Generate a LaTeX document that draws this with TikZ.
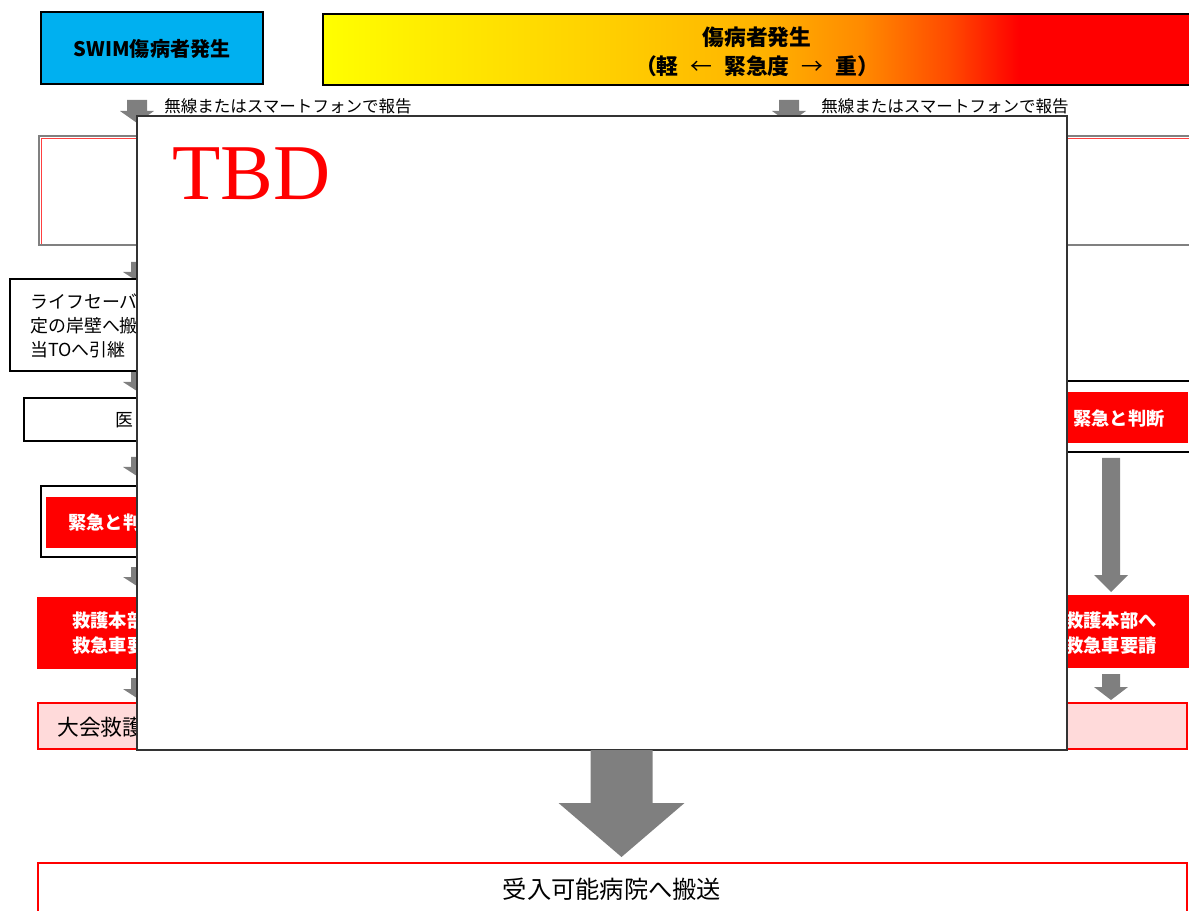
\documentclass[tikz,border=0pt]{standalone}
\usepackage{fontspec}
\setmainfont{Noto Sans CJK JP}
\newfontfamily\tbdfont{Liberation Serif}
\usepackage{xcolor}
\usetikzlibrary{fit,calc}

\definecolor{swimblue}{HTML}{00B0F0}
\definecolor{arrowgray}{HTML}{7F7F7F}
\definecolor{framegray}{HTML}{808080}
\definecolor{lightpink}{HTML}{FFDADA}
\definecolor{sevlight}{HTML}{FFEC00}
\definecolor{sevgold}{HTML}{FFD000}
\definecolor{sevamber}{HTML}{FFB400}
\definecolor{sevorange}{HTML}{FF8A00}
\definecolor{sevdeep}{HTML}{FF4A00}

% box spans 25bp..75bp of the shading
\pgfdeclarehorizontalshading{severity}{100bp}{color(0bp)=(yellow); color(25bp)=(yellow);
  color(31bp)=(sevlight); color(41bp)=(sevgold); color(50bp)=(sevamber);
  color(56bp)=(sevorange); color(61bp)=(sevdeep); color(65bp)=(red); color(100bp)=(red)}

\newcommand{\setfs}[2]{\fontsize{#1}{#2}\selectfont}
% gray block arrow: top, tip, half shaft, half head, head length
\newcommand{\blockarrow}[5]{%
  \fill[arrowgray] ($(#1)+(-#3,0)$) -- ($(#2)+(-#3,-#5)$) -- ($(#2)+(-#4,-#5)$) -- (#2)
    -- ($(#2)+(#4,-#5)$) -- ($(#2)+(#3,-#5)$) -- ($(#1)+(#3,0)$) -- cycle;}

\tikzset{
  boxline/.style = {draw = black, line width = 0.8pt, inner sep = 0pt},
  whitebox/.style = {boxline, fill = white},
  redbox/.style = {fill = red, inner sep = 0pt},
  pinkbox/.style = {draw = red, line width = 0.8pt, fill = lightpink, inner sep = 0pt},
  bodytext/.style = {font = \setfs{10.2pt}{13.6pt}, inner sep = 0pt, align = left},
  boldwhite/.style = {text = white, font = \bfseries\setfs{10.4pt}{14.2pt},
    inner sep = 0pt, align = center}
}

\begin{document}
\begin{tikzpicture}[x = 0.02cm, y = -0.02cm]
  \useasboundingbox (0,0) rectangle (1189,911);
  \clip (0,0) rectangle (1189,911);

  % top row
  \node[whitebox, fill = swimblue, fit = {(41,12) (263,84)}] (swim) {};
  \node[font = \bfseries\setfs{11.4pt}{13pt}, inner sep = 0pt] (swimtxt) at (152,49) {SWIM傷病者発生};
  \node[boxline, shading = severity, fit = {(323,14) (1193,85)}] (sev) {};
  \node[font = \bfseries\setfs{12.4pt}{16.4pt}, align = center, inner sep = 0pt]
    (sevlbl) at (757,52) {傷病者発生\\（軽\hspace{0.55em}{\mdseries ←}\hspace{0.55em}緊急度\hspace{0.55em}{\mdseries →}\hspace{0.55em}重）};

  % arrow ends
  \coordinate (a1) at (137,100);    \coordinate (a1e) at (137,123);
  \coordinate (a2) at (789,100);    \coordinate (a2e) at (789,123);
  \coordinate (a3) at (140,262);    \coordinate (a3e) at (140,283);
  \coordinate (a4) at (140,372);    \coordinate (a4e) at (140,393);
  \coordinate (a5) at (140,457);    \coordinate (a5e) at (140,478);
  \coordinate (a6) at (140,567);    \coordinate (a6e) at (140,588);
  \coordinate (a7) at (140,678);    \coordinate (a7e) at (140,700);
  \coordinate (a8) at (1111,458);   \coordinate (a8e) at (1111,592);
  \coordinate (a9) at (1111,674);   \coordinate (a9e) at (1111,700);
  \coordinate (a10) at (621.5,750); \coordinate (a10e) at (621.5,857);

  \blockarrow{a1}{a1e}{10}{17}{12}
  \blockarrow{a2}{a2e}{10}{17}{12}
  \blockarrow{a3}{a3e}{9}{17}{11}
  \blockarrow{a4}{a4e}{9}{17}{11}
  \blockarrow{a5}{a5e}{9}{17}{11}
  \blockarrow{a6}{a6e}{9}{17}{11}
  \blockarrow{a7}{a7e}{9}{17}{11}
  \blockarrow{a8}{a8e}{9}{17}{17}
  \blockarrow{a9}{a9e}{9}{17}{13}

  \node[bodytext, font = \setfs{9.4pt}{12pt}, anchor = west] (rep1) at (164,106) {無線またはスマートフォンで報告};
  \node[bodytext, font = \setfs{9.4pt}{12pt}, anchor = west] (rep2) at (821,106) {無線またはスマートフォンで報告};

  % left column
  \node[boxline, draw = framegray, fit = {(39,136) (1200,245)}] (wide) {};
  \draw[red!75, line width = 0.8pt] ($(wide.south west)+(3,-2)$) |- ($(wide.north east)+(0,3)$);

  \node[whitebox, fit = {(10,279) (300,371)}] (life) {};
  \node[bodytext, anchor = west] (lifetxt) at (30,326) {ライフセーバー\\定の岸壁へ搬\\当TOへ引継};

  \node[whitebox, fit = {(24,398) (300,441)}] (med) {};
  \node[bodytext, anchor = west] (medtxt) at (115,420) {医};

  \node[whitebox, fit = {(41,486) (300,557)}] (judgeL) {};
  \node[redbox, fit = {(46,497) (300,548)}] (judgeLin) {};
  \node[boldwhite, anchor = west] (judgeLtxt) at (68,523) {緊急と判断};

  \node[redbox, fit = {(37,597) (300,669)}] (hqL) {};
  \node[boldwhite, anchor = west, align = left] (hqLtxt) at (72,633) {救護本部へ\\救急車要請};

  \node[pinkbox, fit = {(38,703) (1187,749)}] (pink) {};
  \node[font = \setfs{12.4pt}{15pt}, anchor = west, inner sep = 0pt] (pinktxt) at (57,727) {大会救護};

  % right column
  \node[whitebox, fit = {(900,381) (1200,452)}] (judgeR) {};
  \node[redbox, fit = {(900,392) (1188,443)}] (judgeRin) {};
  \node[boldwhite] (judgeRtxt) at (1119,419) {緊急と判断};
  \node[redbox, fit = {(900,595) (1200,668)}] (hqR) {};
  \node[boldwhite] (hqRtxt) at (1111,633) {救護本部へ\\救急車要請};

  % placeholder
  \node[whitebox, draw = black!80, line width = 1pt, fit = {(137,116) (1067,750)}] (tbd) {};
  \node[text = red, font = \tbdfont\setfs{45pt}{50pt}, anchor = base west, inner sep = 0pt]
    (tbdtxt) at (172,200) {TBD};

  % transport
  \blockarrow{a10}{a10e}{31}{63}{54}
  \node[whitebox, draw = red, fit = {(38,863) (1187,930)}] (hosp) {};
  \node[font = \setfs{13.8pt}{16pt}, inner sep = 0pt] (hosptxt) at (612,889) {受入可能病院へ搬送};
\end{tikzpicture}
\end{document}
